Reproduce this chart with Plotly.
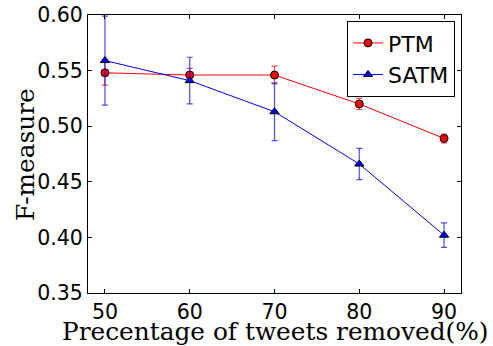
import plotly.graph_objects as go

x_vals = [50, 60, 70, 80, 90]
ptm = [0.548, 0.546, 0.546, 0.520, 0.489]
ptm_err = [0.011, 0.006, 0.008, 0.005, 0.004]
satm = [0.559, 0.541, 0.513, 0.466, 0.402]
satm_err = [0.040, 0.021, 0.026, 0.014, 0.011]
y_ticks = [0.35, 0.40, 0.45, 0.50, 0.55, 0.60]
y_tick_labels = ["0.35", "0.40", "0.45", "0.50", "0.55", "0.60"]
x_title = "Precentage of tweets removed(%)"
y_title = "F-measure"

fig = go.Figure()
fig.add_trace(go.Scatter(
    x=x_vals, y=ptm, name="PTM", mode="lines+markers",
    line=dict(color="red", width=1),
    marker=dict(symbol="circle", size=8, color="red", line=dict(color="black", width=1)),
    error_y=dict(type="data", array=ptm_err, color="rgba(255,0,0,0.7)", thickness=1.2, width=3),
))
fig.add_trace(go.Scatter(
    x=x_vals, y=satm, name="SATM", mode="lines+markers",
    line=dict(color="blue", width=1),
    marker=dict(symbol="triangle-up", size=8, color="blue", line=dict(color="black", width=1)),
    error_y=dict(type="data", array=satm_err, color="rgba(0,0,255,0.7)", thickness=1.2, width=3),
))

axis_common = dict(
    showgrid=False, zeroline=False, showline=True, linecolor="black", linewidth=1,
    mirror="ticks", ticks="inside", ticklen=4, tickcolor="black", automargin=False,
    tickfont=dict(family="DejaVu Sans", size=20.5, color="black"),
)
fig.update_xaxes(range=[48, 92], tickvals=x_vals, ticktext=[str(v) for v in x_vals],
                 **axis_common)
fig.update_yaxes(range=[0.35, 0.60], tickvals=y_ticks, ticktext=y_tick_labels,
                 **axis_common)

title_font = dict(family="DejaVu Serif", size=24.8, color="black")
fig.add_annotation(text=x_title, xref="paper", yref="paper", x=0.5, y=-0.138,
                   xanchor="center", yanchor="middle", showarrow=False, font=title_font)
fig.add_annotation(text=y_title, xref="paper", yref="paper", x=-0.169, y=0.5,
                   xanchor="center", yanchor="middle", textangle=-90, showarrow=False,
                   font=title_font)

fig.update_layout(
    width=493, height=346,
    margin=dict(l=88, r=32, t=15, b=53),
    plot_bgcolor="white", paper_bgcolor="white",
    legend=dict(x=0.984, y=0.978, xanchor="right", yanchor="top",
                bordercolor="black", borderwidth=1, bgcolor="white",
                font=dict(family="DejaVu Sans", size=22, color="black"),
                itemwidth=30, tracegroupgap=0),
)

fig.write_html("out.html", post_script="document.body.style.margin='0';",
               config={"displayModeBar": False})
